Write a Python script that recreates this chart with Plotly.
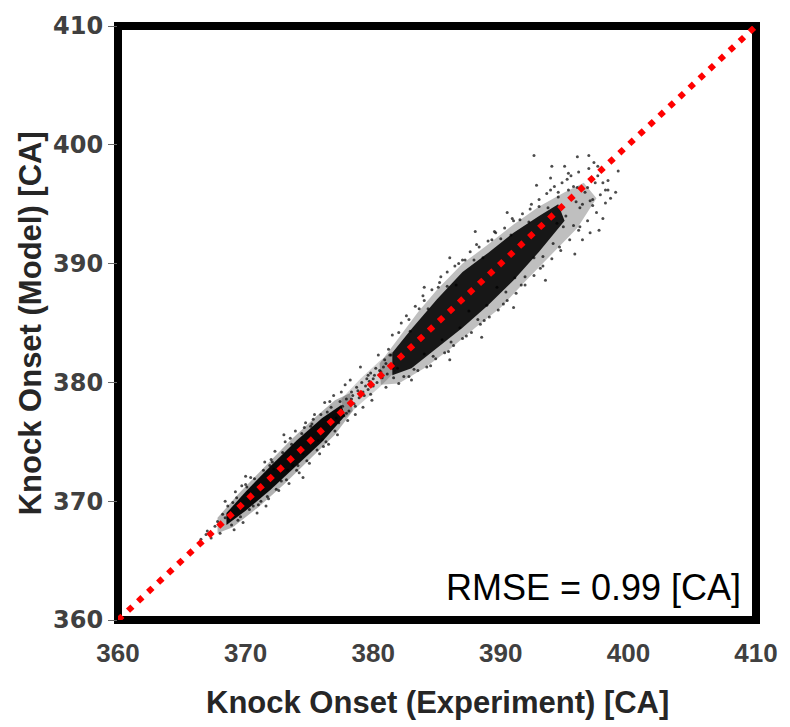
import plotly.graph_objects as go

# Reference line (model = experiment)
line_x = [360, 410]
line_y = [360, 410]

# Dense core outlines (data units)
lo_outer_x = [367.8, 369.5, 371.5, 373.5, 375.5, 377.0, 378.2, 378.4, 377.0, 375.0, 373.0, 371.0, 369.0, 367.8]
lo_outer_y = [368.6, 370.7, 372.9, 375.1, 377.1, 378.5, 379.1, 377.6, 375.6, 373.5, 371.4, 369.5, 367.8, 367.3]
lo_inner_x = [368.5, 370.0, 372.0, 374.0, 376.0, 377.5, 377.8, 376.0, 374.0, 372.0, 370.0, 368.5]
lo_inner_y = [369.0, 370.8, 373.0, 375.1, 377.0, 378.1, 377.2, 375.0, 373.0, 371.0, 369.2, 368.0]

gap_x = [377.5, 379.0, 380.5, 381.5, 381.8, 380.5, 379.0, 377.8]
gap_y = [378.6, 380.3, 381.8, 382.6, 381.0, 379.6, 378.2, 377.0]

hi_outer_x = [380.5, 382.0, 383.5, 385.0, 387.0, 389.0, 391.0, 393.0, 395.0, 396.5,
              397.5, 396.0, 394.0, 392.0, 390.0, 388.0, 386.0, 384.0, 382.0, 380.6]
hi_outer_y = [381.6, 383.8, 385.9, 387.8, 390.0, 391.6, 393.3, 394.8, 396.0, 396.8,
              395.5, 393.0, 390.8, 388.6, 386.3, 384.6, 382.8, 381.2, 379.9, 379.8]
hi_inner_x = [381.5, 383.0, 385.0, 387.0, 389.0, 391.0, 393.0, 394.5,
              395.0, 393.0, 391.0, 389.0, 387.0, 385.0, 383.0, 381.5]
hi_inner_y = [382.5, 384.5, 387.0, 389.3, 390.9, 392.6, 394.0, 395.0,
              393.6, 391.0, 388.6, 386.5, 384.6, 382.9, 381.2, 380.6]

# Individual scattered samples
pts_x = [366.5, 367.0, 367.3, 367.8, 367.6, 368.0, 368.2, 366.9,
         369.2, 369.8, 370.4, 370.9, 371.5, 371.8, 372.3, 372.6, 373.1, 373.4, 373.9, 374.2,
         374.7, 375.0, 375.4, 375.8, 376.2, 376.5, 376.9, 377.2, 369.0, 370.0, 371.2, 372.0,
         373.7, 374.5, 375.2, 376.0, 377.5, 378.0,
         368.6, 368.9, 369.3, 369.6, 370.1, 370.3, 370.7, 371.0, 371.4, 371.7, 372.1, 372.4,
         372.9, 373.2, 373.6, 374.0, 374.4, 374.8, 375.1, 375.6, 375.9, 376.3, 376.7, 377.0,
         377.4, 368.4, 369.7, 370.6, 371.9, 372.8, 373.5, 374.1, 375.3, 376.1, 376.6, 377.7,
         369.4, 370.2, 371.3, 372.2, 373.3, 374.6, 375.7, 376.4, 377.1,
         368.4, 369.1, 370.0, 371.6, 373.0, 374.5,
         377.6, 377.9, 378.1, 378.3, 378.5, 378.7, 378.9, 379.1, 379.3, 379.5, 379.6, 379.8,
         380.0, 380.2, 380.3, 380.5, 380.7, 380.9, 381.1, 381.3, 378.2, 379.0, 379.9, 380.4,
         381.0, 377.8, 378.6, 379.4, 380.1, 380.8, 378.4, 379.7, 381.5, 377.3, 379.2,
         377.9, 378.3, 378.8, 379.2, 379.6, 380.0, 380.6, 381.0, 378.6, 379.8,
         381.5, 382.2, 382.8, 383.3, 384.0, 384.6, 385.2, 385.8, 386.4, 387.0, 387.6, 388.3,
         389.0, 389.6, 390.3, 391.0, 391.7, 392.3, 393.0, 393.6, 394.2, 394.8, 395.5, 396.1,
         388.0, 386.0, 384.0, 390.5, 392.8, 395.0,
         382.0, 382.8, 383.5, 384.2, 384.9, 385.6, 386.3, 387.0, 387.7, 388.4, 389.1, 389.8,
         390.5, 391.2, 391.9, 392.6, 393.3, 394.0, 394.7, 395.4, 396.1, 396.8, 397.5, 398.2,
         386.0, 388.5, 391.0, 393.5, 395.8, 397.0,
         381.2, 381.6, 382.0, 382.4, 382.9, 383.2, 383.6, 384.0, 384.3, 384.7, 385.1, 385.4,
         385.8, 386.1, 386.5, 386.8, 387.2, 387.5, 387.9, 388.2, 388.6, 388.9, 389.3, 389.7,
         390.0, 390.4, 390.8, 391.1, 391.5, 391.9, 392.2, 392.6, 393.0, 393.3, 393.7, 394.1,
         394.5, 394.9, 395.3, 395.7, 396.0, 396.4, 396.8, 397.2, 397.6, 398.0,
         381.4, 381.9, 382.6, 383.0, 383.9, 384.5, 385.3, 385.9, 386.7, 387.3, 388.1, 388.7,
         389.5, 390.2, 390.9, 391.6, 392.4, 393.1, 393.9, 394.6, 395.2, 396.2, 397.3, 398.4,
         394.5, 395.1, 395.7, 396.2, 396.6, 397.0, 397.4, 397.8, 398.2, 398.6, 396.9, 397.6,
         395.3, 393.9, 398.0, 396.4, 397.2, 398.4, 395.9, 394.4, 399.0, 396.0, 394.0,
         392.6, 396.9, 399.2, 397.7]
pts_y = [366.8, 367.5, 366.9, 368.3, 367.9, 367.3, 368.9, 367.2,
         370.8, 368.2, 372.0, 369.0, 373.3, 370.2, 374.2, 370.9, 375.0, 371.5, 375.9, 372.4,
         376.6, 373.2, 377.3, 374.0, 378.3, 374.8, 378.9, 375.6, 369.9, 371.4, 370.0, 373.5,
         373.0, 374.0, 376.5, 375.2, 379.2, 376.8,
         369.6, 368.0, 370.3, 368.7, 371.2, 369.3, 371.9, 369.7, 372.6, 370.4, 373.3, 371.0,
         374.1, 371.8, 374.8, 372.6, 375.7, 373.4, 376.3, 374.3, 377.3, 375.0, 377.9, 375.9,
         378.4, 368.6, 371.3, 369.6, 373.0, 371.7, 375.3, 373.0, 376.9, 374.6, 378.4, 377.2,
         368.4, 370.8, 371.0, 372.7, 372.6, 376.2, 375.1, 377.5, 377.0,
         370.0, 367.6, 372.1, 369.6, 375.6, 372.0,
         378.0, 378.6, 377.6, 379.2, 378.2, 379.6, 378.7, 380.0, 378.9, 380.3, 379.4, 380.8,
         379.7, 381.2, 380.0, 381.0, 380.4, 381.9, 380.7, 382.3, 380.2, 381.3, 378.5, 382.3,
         379.6, 379.8, 377.3, 379.7, 380.6, 381.3, 378.9, 380.1, 381.2, 376.6, 377.9,
         377.4, 378.6, 379.3, 379.2, 380.6, 380.3, 380.9, 381.6, 378.0, 379.0,
         384.0, 385.0, 385.3, 386.4, 386.9, 387.8, 388.4, 389.3, 389.8, 390.3, 391.0, 391.4,
         391.9, 392.6, 393.0, 393.6, 394.2, 394.6, 395.4, 395.9, 396.5, 396.8, 397.4, 397.7,
         392.7, 390.5, 388.0, 394.3, 396.6, 398.2,
         379.9, 380.5, 381.0, 381.3, 382.0, 382.5, 383.1, 383.7, 384.2, 384.9, 385.5, 386.1,
         386.9, 387.5, 388.2, 389.0, 389.8, 390.4, 391.1, 392.0, 392.8, 393.6, 394.3, 395.1,
         381.9, 383.8, 386.3, 388.6, 390.8, 392.6,
         382.8, 380.4, 384.2, 380.5, 384.3, 381.1, 386.2, 382.4, 386.2, 382.2, 388.0, 383.6,
         388.1, 383.4, 388.2, 384.6, 390.3, 386.0, 390.3, 385.3, 390.5, 386.5, 392.0, 388.0,
         392.1, 387.6, 392.4, 388.8, 393.7, 388.9, 393.5, 390.5, 394.8, 390.6, 394.7, 391.7,
         396.0, 393.1, 396.2, 393.2, 396.4, 395.0, 396.4, 395.4, 398.2, 396.8,
         382.3, 381.2, 385.6, 380.2, 387.3, 381.4, 388.9, 382.6, 390.0, 383.9, 391.6, 385.2,
         392.7, 386.6, 393.8, 388.2, 395.0, 389.6, 396.2, 391.4, 397.1, 393.1, 398.5, 396.2,
         395.6, 394.0, 396.5, 394.7, 396.0, 395.3, 396.8, 395.8, 396.2, 395.5, 398.0, 397.4,
         397.6, 397.2, 393.8, 392.0, 394.9, 397.0, 395.2, 393.4, 396.0, 399.0, 398.2,
         399.1, 399.1, 397.8, 392.8]

tick_vals = [360, 370, 380, 390, 400, 410]
tick_text = ["360", "370", "380", "390", "400", "410"]

fig = go.Figure()
for cx, cy, a in [(lo_outer_x, lo_outer_y, 0.3), (lo_inner_x, lo_inner_y, 0.95),
                  (gap_x, gap_y, 0.18),
                  (hi_outer_x, hi_outer_y, 0.25), (hi_inner_x, hi_inner_y, 0.88)]:
    fig.add_trace(go.Scatter(x=cx, y=cy, fill="toself", mode="lines", line=dict(width=0),
                             fillcolor=f"rgba(0,0,0,{a})", hoverinfo="skip"))
fig.add_trace(go.Scatter(x=pts_x, y=pts_y, mode="markers",
                         marker=dict(size=3, color="rgba(0,0,0,0.7)", line=dict(width=0))))
fig.add_trace(go.Scatter(x=line_x, y=line_y, mode="lines",
                         line=dict(color="#ff0000", width=6, dash="6px,7.7px")))

fig.update_layout(
    width=790, height=727,
    margin=dict(l=118, r=32, t=25, b=107),
    paper_bgcolor="white", plot_bgcolor="white",
    showlegend=False,
    shapes=[dict(type="rect", xref="paper", yref="paper", x0=0, y0=0, x1=1, y1=1,
                 line=dict(color="black", width=8), layer="below")],
    annotations=[
        dict(text="Knock Onset (Experiment) [CA]", xref="paper", yref="paper",
             x=0.5, y=-0.1395, xanchor="center", yanchor="middle", showarrow=False,
             font=dict(family="Liberation Sans", size=31, color="#262626", weight="bold")),
        dict(text="Knock Onset (Model) [CA]", xref="paper", yref="paper",
             x=-0.1375, y=0.5, xanchor="center", yanchor="middle", showarrow=False, textangle=-90,
             font=dict(family="Liberation Sans", size=31, color="#262626", weight="bold")),
        dict(text="RMSE = 0.99 [CA]", xref="paper", yref="paper",
             x=0.98, y=0.054, xanchor="right", yanchor="middle", showarrow=False,
             font=dict(family="Liberation Sans", size=36, color="black")),
    ],
)
fig.update_xaxes(range=[360, 410], tickvals=tick_vals, ticktext=tick_text,
                 showgrid=False, zeroline=False, showline=False, ticks="",
                 ticklabelstandoff=15,
                 tickfont=dict(family="Liberation Sans", size=26, color="#404040", weight="bold"))
fig.update_yaxes(range=[360, 410], tickvals=tick_vals, ticktext=tick_text,
                 showgrid=False, zeroline=False, showline=False,
                 ticks="outside", ticklen=9, tickwidth=1, tickcolor="#666666",
                 tickfont=dict(family="DejaVu Sans", size=24, color="#404040", weight="bold"))

fig.write_html("out.html")
